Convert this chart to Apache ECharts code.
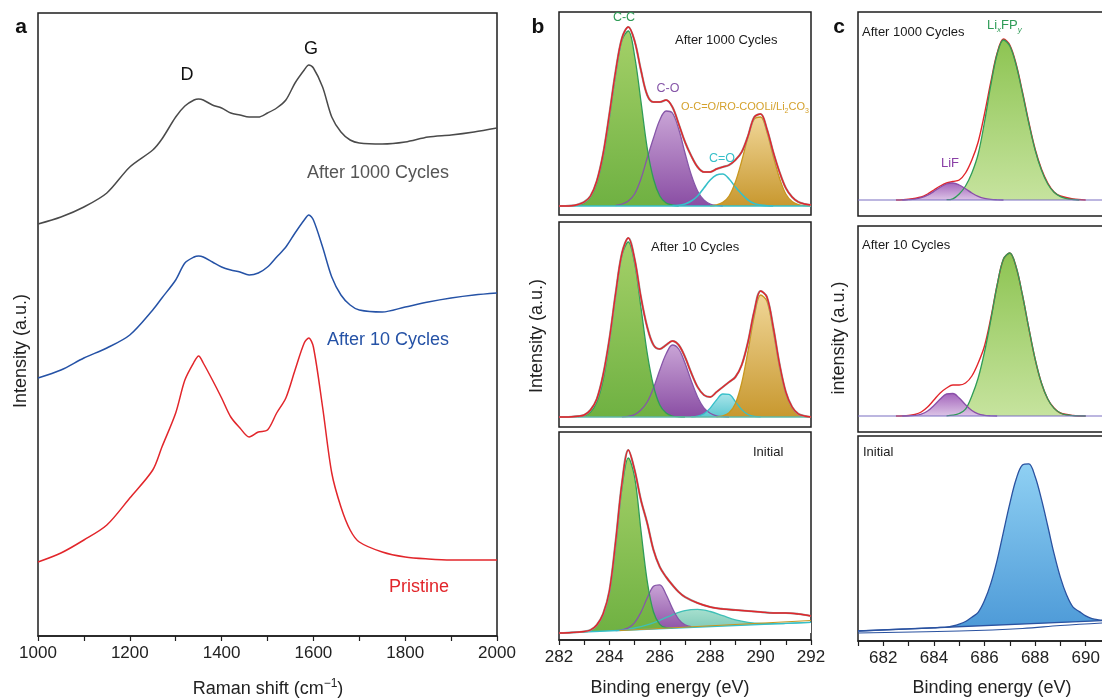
<!DOCTYPE html>
<html>
<head>
<meta charset="utf-8">
<script src="https://cdn.jsdelivr.net/npm/echarts@6/dist/echarts.min.js"></script>
<style>
  html, body { margin: 0; background: #fff; }
  #chart { width: 1102px; height: 700px; }
</style>
</head>
<body>
<div id="chart"></div>
<script>
// ---- panel a : Raman spectra (intensity in a.u., stacked offsets as plotted) ----
var ramanShift = [1000,1050,1100,1150,1200,1250,1270,1300,1320,1340,1350,1360,1380,1400,1420,1440,1460,1480,1500,1520,1540,1560,1580,1590,1600,1620,1640,1660,1680,1700,1750,1800,1850,1900,1950,2000];
var ramanPristine = [74,83,96,111,138,166,189,223,256,274,280,273,256,238,219,208,199,204,206,223,238,266,293,298,289,229,163,129,106,94,84,79,77,76,76,76];
var raman10 = [258,266,278,288,301,326,338,356,373,379,380,379,374,369,366,364,361,363,369,379,389,403,416,421,416,389,359,341,331,326,324,329,334,338,341,343];
var raman1000 = [412,419,429,443,469,486,497,519,530,536,537,536,531,528,523,521,519,519,523,528,536,553,566,571,568,549,519,504,496,493,492,494,499,501,504,508];

// ---- panel b : C 1s fits, [binding energy, intensity] ----
var b1CC = [[282.5,0.2],[282.75,0.8],[283,3],[283.25,9],[283.5,23],[283.75,49],[284,88],[284.25,132],[284.5,166],[284.75,175],[285,150],[285.25,105],[285.5,58],[285.75,27],[286,10],[286.25,3],[286.5,1],[286.75,0]];
var b1CO = [[284.25,0.5],[284.5,2],[284.75,5],[285,12],[285.25,27],[285.5,48],[285.75,68],[286,86],[286.25,95],[286.5,93],[286.75,77],[287,53],[287.25,31],[287.5,15],[287.75,6],[288,2],[288.25,0.6],[288.5,0]];
var b1CdO = [[286.5,0.5],[286.75,0.7],[287,2],[287.25,5],[287.5,10],[287.75,18],[288,26],[288.25,31],[288.5,32],[288.75,27],[289,19],[289.25,12],[289.5,6],[289.75,2.4],[290,0.9],[290.25,0.3],[290.5,0]];
var b1OCO = [[288,0.2],[288.25,1],[288.5,3.6],[288.75,10],[289,24],[289.25,45],[289.5,69],[289.75,87],[290,89],[290.25,74],[290.5,50],[290.75,28],[291,12],[291.25,4.5],[291.5,1.4],[291.75,0.3],[292,0]];
var b1Env = [[282,0],[282.25,0],[282.5,0.3],[282.75,1.5],[283,4],[283.25,10],[283.5,25],[283.75,52],[284,92],[284.25,135],[284.5,168],[284.75,179],[285,165],[285.25,136],[285.5,111],[285.75,104],[286,104],[286.25,106],[286.5,99],[286.75,82],[287,64],[287.25,50],[287.5,39],[287.75,34],[288,34],[288.25,37],[288.5,39],[288.75,41],[289,46],[289.25,54],[289.5,70],[289.75,89],[290,92],[290.25,77],[290.5,54],[290.75,34],[291,18],[291.25,9],[291.5,4],[291.75,2],[292,1]];

var b2CC = [[282.75,0.3],[283,1.4],[283.25,5],[283.5,15],[283.75,37],[284,75],[284.25,122],[284.5,162],[284.75,175],[285,154],[285.25,110],[285.5,64],[285.75,31],[286,12],[286.25,4],[286.5,1],[286.75,0.2],[287,0]];
var b2CO = [[284.5,0.2],[284.75,0.7],[285,2.4],[285.25,7],[285.5,15],[285.75,29],[286,47],[286.25,63],[286.5,72],[286.75,68],[287,54],[287.25,36],[287.5,20],[287.75,9],[288,3.7],[288.25,1.2],[288.5,0.3],[288.75,0]];
var b2CdO = [[287.25,0.15],[287.5,0.8],[287.75,3.2],[288,8.9],[288.25,17],[288.5,23],[288.75,22.6],[289,15.4],[289.25,7.4],[289.5,2.5],[289.75,0.6],[290,0.1]];
var b2OCO = [[288.25,0.2],[288.5,1.1],[288.75,4.3],[289,13.5],[289.25,34],[289.5,66],[289.75,101],[290,122],[290.25,116],[290.5,86],[290.75,50],[291,23],[291.25,8.4],[291.5,2.4],[291.75,0.5],[292,0.1]];
var b2Env = [[282,0],[282.25,0],[282.5,0.2],[282.75,0.8],[283,2],[283.25,7],[283.5,18],[283.75,42],[284,78],[284.25,124],[284.5,164],[284.75,179],[285,158],[285.25,120],[285.5,90],[285.75,72],[286,68],[286.25,72],[286.5,76],[286.75,72],[287,60],[287.25,44],[287.5,30],[287.75,22],[288,20],[288.25,25],[288.5,30],[288.75,35],[289,40],[289.25,52],[289.5,75],[289.75,106],[290,126],[290.25,120],[290.5,90],[290.75,53],[291,25],[291.25,10],[291.5,3],[291.75,1],[292,0]];

var b3CC = [[282.75,0.8],[283,1.2],[283.25,2.3],[283.5,7.6],[283.75,18],[284,40],[284.25,88],[284.5,145],[284.75,175],[285,156],[285.25,103],[285.5,52],[285.75,21],[286,8.6],[286.25,5.3],[286.5,4.9]];
var b3CO = [[284.25,2.4],[284.5,3.2],[284.75,5.1],[285,10.4],[285.25,20.6],[285.5,35],[285.75,46.8],[286,48.2],[286.25,38.5],[286.5,24.6],[286.75,13.7],[287,8.2],[287.25,6.3]];
var b3CdO = [[284.5,3.3],[285,5],[285.5,8.1],[286,12.7],[286.5,18.2],[287,22.4],[287.5,23.6],[288,21.5],[288.5,17.3],[289,13.2],[289.5,10.7],[290,9.5],[290.5,9.3],[291,9.6],[291.5,10.1],[292,10.6]];
var b3OCOfloor = [[284.4,2.4],[292,12.5]];
var b3OCO = [[284.4,1],[292,4.5]];
var b3Base = [[282,0],[292,10.6]];
var b3Env = [[282,0],[282.5,0.5],[283,1.5],[283.25,3],[283.5,8],[283.75,19],[284,42],[284.25,92],[284.5,150],[284.75,183],[285,163],[285.25,133],[285.5,110],[285.75,83],[286,66],[286.25,56],[286.5,48],[286.75,41],[287,36],[287.5,30],[288,26],[288.5,24],[289,23],[289.5,22],[290,21],[290.5,20],[291,20],[291.5,19],[292,17]];

// ---- panel c : F 1s fits ----
var c1LiFP = [[684.5,0.3],[684.75,1.2],[685,6],[685.25,14],[685.5,27],[685.75,46],[686,78],[686.25,115],[686.5,146],[686.75,160],[687,154],[687.25,135],[687.5,107],[687.75,77],[688,50],[688.25,30],[688.5,16],[688.75,7.7],[689,3.4],[689.25,1.4],[689.5,0.5],[689.75,0]];
var c1LiF = [[682.75,0],[683,0.3],[683.25,0.9],[683.5,2.3],[683.75,4.9],[684,8.6],[684.25,12.8],[684.5,16],[684.75,17],[685,15],[685.25,11.2],[685.5,7],[685.75,3.7],[686,1.6],[686.25,0.6],[686.5,0.2],[686.75,0]];
var c1Env = [[682.5,0],[683,0.8],[683.5,3],[683.75,6],[684,10],[684.25,14],[684.5,17],[684.75,18.5],[685,20],[685.25,27],[685.5,40],[685.75,58],[686,86],[686.25,118],[686.5,147],[686.75,161],[687,155],[687.25,136],[687.5,108],[687.75,78],[688,51],[688.25,31],[688.5,17],[688.75,8],[689,4],[689.5,1],[690,0]];

var c2LiFP = [[684.5,0.2],[684.75,0.8],[685,2.5],[685.25,6.8],[685.5,20],[685.75,38],[686,64],[686.25,96],[686.5,131],[686.75,157],[687,163],[687.25,149],[687.5,121],[687.75,88],[688,57],[688.25,33],[688.5,17],[688.75,7.6],[689,3],[689.25,1.1],[689.5,0.35],[689.75,0.1],[690,0]];
var c2LiF = [[682.75,0],[683,0.1],[683.25,0.6],[683.5,1.9],[683.75,5],[684,10.5],[684.25,17],[684.5,22],[684.75,22.5],[685,18],[685.25,11.2],[685.5,5.5],[685.75,2.1],[686,0.7],[686.25,0.2],[686.5,0]];
var c2Env = [[682.5,0],[683,0.5],[683.25,1.5],[683.5,4],[683.75,9],[684,16],[684.25,23],[684.5,28],[684.75,31],[685,31],[685.25,33],[685.5,40],[685.75,53],[686,70],[686.25,98],[686.5,131],[686.75,157],[687,163],[687.25,149],[687.5,121],[687.75,88],[688,57],[688.25,33],[688.5,17],[688.75,8],[689,3],[689.5,0.5],[690,0]];

var c3Peak = [[681,1],[682,2.1],[683,3.1],[684,4.2],[684.25,4.6],[684.5,4.9],[684.75,6],[685,7.8],[685.25,10.5],[685.5,14.8],[685.75,19.7],[686,31.4],[686.25,48.6],[686.5,71.9],[686.75,100.2],[687,128.4],[687.25,152.7],[687.5,167],[687.75,168.2],[688,155.5],[688.25,132.8],[688.5,106],[688.75,78.3],[689,54.6],[689.25,36.8],[689.5,24.8],[689.75,20.4],[690,16.1],[690.25,13.4],[690.5,12.2],[690.75,11.6],[691,11.7]];
var c3Base = [[681,1],[691,11.7]];
var c3Lower = [[681,-1],[685,1],[687.5,3.5],[689,6.5],[691,9.5]];

var FONT = 'Liberation Sans, Arial, Helvetica, sans-serif';
var INK = '#1e1e1e';

var chart = echarts.init(document.getElementById('chart'), null, { renderer: 'canvas' });

function grad(top, bottom) {
  return new echarts.graphic.LinearGradient(0, 0, 0, 1, [
    { offset: 0, color: top }, { offset: 1, color: bottom }
  ]);
}
function area(g, data, line, top, bottom) {
  return {
    type: 'line', xAxisIndex: g, yAxisIndex: g, data: data, smooth: 0.35,
    symbol: 'none', silent: true,
    lineStyle: { color: line, width: 1.3 },
    areaStyle: { color: grad(top, bottom), opacity: 1 }
  };
}
function curve(g, data, color, width, smooth) {
  return {
    type: 'line', xAxisIndex: g, yAxisIndex: g, data: data,
    smooth: smooth === undefined ? 0.35 : smooth,
    symbol: 'none', silent: true,
    lineStyle: { color: color, width: width }
  };
}
function zip(xs, ys) {
  return xs.map(function (x, i) { return [x, ys[i]]; });
}

// panel c runs past the right edge of the window, as in the figure
var grids = [
  { left: 38, top: 13, width: 459, height: 623 },   // a
  { left: 559, top: 12, width: 252, height: 203 },  // b1
  { left: 559, top: 222, width: 252, height: 205 }, // b2
  { left: 559, top: 432, width: 252, height: 208 }, // b3
  { left: 858, top: 12, width: 253, height: 204 },  // c1
  { left: 858, top: 226, width: 253, height: 206 }, // c2
  { left: 858, top: 436, width: 253, height: 205 }  // c3
].map(function (g) {
  g.show = true; g.borderColor = INK; g.borderWidth = 1.5;
  g.containLabel = false; g.outerBoundsMode = 'none';
  return g;
});

function shownX(g, min, max, interval, step) {
  return {
    gridIndex: g, type: 'value', min: min, max: max, interval: interval,
    axisLine: { show: true, onZero: false, lineStyle: { color: INK, width: 1.5 } },
    axisTick: { show: true, inside: false, length: 5, lineStyle: { color: INK, width: 1.2 } },
    axisLabel: {
      fontSize: 17, color: '#222', fontFamily: FONT, margin: 9,
      formatter: function (v) { return v % step === 0 ? String(v) : ''; }
    },
    splitLine: { show: false }
  };
}
function hiddenX(g, min, max) {
  return { gridIndex: g, type: 'value', min: min, max: max, show: false };
}
function hiddenY(g, min, max) {
  return { gridIndex: g, type: 'value', min: min, max: max, show: false };
}

var xAxes = [
  shownX(0, 1000, 2000, 100, 200),
  hiddenX(1, 282, 292), hiddenX(2, 282, 292), shownX(3, 282, 292, 1, 2),
  hiddenX(4, 681, 691), hiddenX(5, 681, 691), shownX(6, 681, 691, 1, 2)
];
var yAxes = [
  hiddenY(0, 0, 623),
  hiddenY(1, -9, 194), hiddenY(2, -10, 195), hiddenY(3, -7, 201),
  hiddenY(4, -16, 188), hiddenY(5, -16, 190), hiddenY(6, -9, 196)
];

// colours
var RED = '#e2262b';
var GREEN_L = '#2f9c57', PURPLE_L = '#8656a8', CYAN_L = '#36bfc9', ORANGE_L = '#c8961f';

var series = [
  // a
  curve(0, zip(ramanShift, raman1000), '#4a4a4a', 1.5, 0.3),
  curve(0, zip(ramanShift, raman10), '#2552a6', 1.5, 0.3),
  curve(0, zip(ramanShift, ramanPristine), RED, 1.5, 0.3),

  // b1
  area(1, b1CO, PURPLE_L, '#c9a4d6', '#8a4ea4'),
  area(1, b1CC, GREEN_L, '#a4d068', '#6fb142'),
  curve(1, b1CdO, CYAN_L, 1.6),
  area(1, b1OCO, ORANGE_L, '#f0d697', '#c8982f'),
  curve(1, [[282, 0], [292, 0]], CYAN_L, 1.3, false),
  curve(1, b1Env, '#9a9a9a', 2.2),
  curve(1, b1Env, RED, 1.4),

  // b2
  area(2, b2CO, PURPLE_L, '#c9a4d6', '#8a4ea4'),
  area(2, b2CC, GREEN_L, '#a4d068', '#6fb142'),
  area(2, b2CdO, CYAN_L, '#a9e5ea', '#5cc7d0'),
  area(2, b2OCO, ORANGE_L, '#f0d697', '#c8982f'),
  curve(2, [[282, 0], [292, 0]], '#5fb7a6', 1.3, false),
  curve(2, b2Env, '#9a9a9a', 2.2),
  curve(2, b2Env, RED, 1.4),

  // b3
  area(3, b3CdO, '#3fbfb6', '#a6dfce', '#78c6b4'),
  area(3, b3CO, PURPLE_L, '#c9a4d6', '#8a4ea4'),
  area(3, b3CC, GREEN_L, '#a4d068', '#6fb142'),
  {
    type: 'line', xAxisIndex: 3, yAxisIndex: 3, data: b3Base, symbol: 'none', silent: true,
    lineStyle: { color: CYAN_L, width: 1.3 }, areaStyle: { color: '#ffffff', opacity: 1 }
  },
  {
    type: 'line', xAxisIndex: 3, yAxisIndex: 3, data: b3OCOfloor, stack: 'oco', symbol: 'none', silent: true,
    lineStyle: { color: ORANGE_L, width: 1 }
  },
  {
    type: 'line', xAxisIndex: 3, yAxisIndex: 3, data: b3OCO, stack: 'oco', symbol: 'none', silent: true,
    lineStyle: { color: ORANGE_L, width: 1.3 }, areaStyle: { color: '#e6c375', opacity: 1 }
  },
  curve(3, b3Env, '#9a9a9a', 2.2),
  curve(3, b3Env, RED, 1.4),

  // c1
  curve(4, c1Env, RED, 1.4),
  area(4, c1LiFP, GREEN_L, '#8dc452', '#c6e39e'),
  area(4, c1LiF, '#8a4fa8', '#a466bc', '#dcc4e6'),
  curve(4, [[681, 0], [691, 0]], '#7b6fc2', 1.2, false),

  // c2
  curve(5, c2Env, RED, 1.4),
  area(5, c2LiFP, GREEN_L, '#8dc452', '#c6e39e'),
  area(5, c2LiF, '#8a4fa8', '#a466bc', '#dcc4e6'),
  curve(5, [[681, 0], [691, 0]], '#7b6fc2', 1.2, false),

  // c3
  area(6, c3Peak, '#2a52a0', '#8fd0f3', '#4c99d7'),
  {
    type: 'line', xAxisIndex: 6, yAxisIndex: 6, data: c3Base, symbol: 'none', silent: true,
    lineStyle: { color: '#2a52a0', width: 1.3 }, areaStyle: { color: '#ffffff', opacity: 1 }
  },
  curve(6, c3Lower, '#2a52a0', 1.1, 0.4)
];

function txt(x, y, text, size, color, align, more) {
  var el = {
    type: 'text', x: x, y: y, silent: true, z: 100,
    style: {
      text: text, fill: color, fontSize: size, fontFamily: FONT,
      align: align || 'left', textAlign: align || 'left',
      verticalAlign: 'middle', textVerticalAlign: 'middle'
    }
  };
  if (more) {
    for (var k in more) {
      if (k === 'style') { for (var s in more.style) el.style[s] = more.style[s]; }
      else el[k] = more[k];
    }
  }
  return el;
}
function vtxt(x, y, text) {
  return txt(x, y, text, 18, '#222', 'center', { rotation: Math.PI / 2 });
}
function sub(size, color, italic) {
  return {
    n: { fontSize: size, fill: color, fontFamily: FONT, lineHeight: size + 4 },
    s: { fontSize: Math.round(size * 0.65), fill: color, fontFamily: FONT, verticalAlign: 'bottom',
         fontStyle: italic ? 'italic' : 'normal', lineHeight: Math.round(size * 0.65) },
    u: { fontSize: Math.round(size * 0.65), fill: color, fontFamily: FONT, verticalAlign: 'top',
         lineHeight: Math.round(size * 0.65) }
  };
}

var graphics = [
  // panel letters
  txt(21, 27, 'a', 21, '#111', 'center', { style: { fontWeight: 'bold' } }),
  txt(538, 27, 'b', 21, '#111', 'center', { style: { fontWeight: 'bold' } }),
  txt(839, 27, 'c', 21, '#111', 'center', { style: { fontWeight: 'bold' } }),

  // panel a
  txt(187, 75, 'D', 18, '#111', 'center'),
  txt(311, 49, 'G', 18, '#111', 'center'),
  txt(449, 173, 'After 1000 Cycles', 18, '#555555', 'right'),
  txt(449, 340, 'After 10 Cycles', 18, '#2552a6', 'right'),
  txt(449, 587, 'Pristine', 18, RED, 'right'),
  txt(268, 689, '{n|Raman shift (cm}{u|\u22121}{n|)}', 18, '#222', 'center', { style: { rich: sub(18, '#222') } }),
  vtxt(21, 351, 'Intensity (a.u.)'),

  // panel b
  txt(675, 40, 'After 1000 Cycles', 13, '#1a1a1a', 'left'),
  txt(651, 247, 'After 10 Cycles', 13, '#1a1a1a', 'left'),
  txt(753, 452, 'Initial', 13, '#1a1a1a', 'left'),
  txt(624, 18, 'C-C', 12.5, GREEN_L, 'center'),
  txt(668, 89, 'C-O', 12.5, PURPLE_L, 'center'),
  txt(722, 159, 'C=O', 12.5, CYAN_L, 'center'),
  txt(681, 107, '{n|O-C=O/RO-COOLi/Li}{s|2}{n|CO}{s|3}', 11, '#d4a12c', 'left', { style: { rich: sub(11, '#d4a12c') } }),
  txt(670, 688, 'Binding energy (eV)', 18, '#222', 'center'),
  vtxt(537, 336, 'Intensity (a.u.)'),

  // panel c
  txt(862, 32, 'After 1000 Cycles', 13, '#1a1a1a', 'left'),
  txt(987, 25, '{n|Li}{s|x}{n|FP}{s|y}', 13, GREEN_L, 'left', { style: { rich: sub(13, GREEN_L, true) } }),
  txt(941, 163, 'LiF', 13, '#8a3fa6', 'left'),
  txt(862, 245, 'After 10 Cycles', 13, '#1a1a1a', 'left'),
  txt(863, 452, 'Initial', 13, '#1a1a1a', 'left'),
  txt(992, 688, 'Binding energy (eV)', 18, '#222', 'center'),
  vtxt(839, 338, 'intensity (a.u.)')
];

chart.setOption({
  animation: false,
  backgroundColor: '#ffffff',
  grid: grids,
  xAxis: xAxes,
  yAxis: yAxes,
  series: series,
  graphic: graphics
});
</script>
</body>
</html>
